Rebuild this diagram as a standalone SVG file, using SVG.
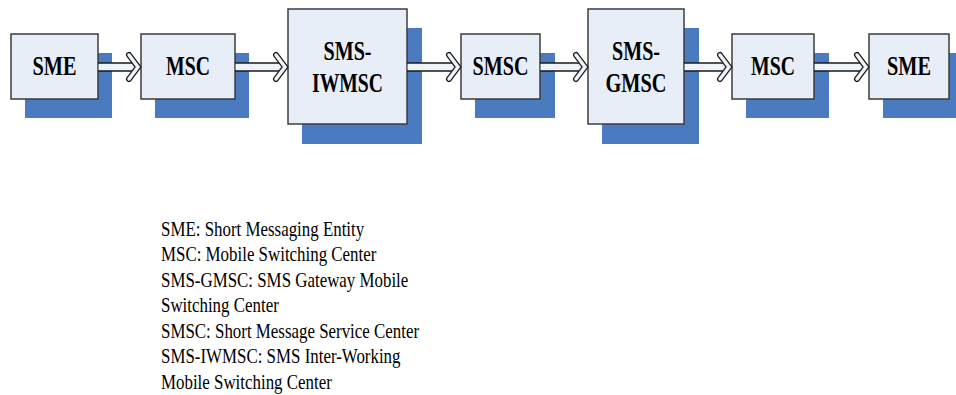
<svg xmlns="http://www.w3.org/2000/svg" width="956" height="395" viewBox="0 0 956 395">
  <style>
    .shadow { fill: #4a7abf; }
    .box { fill: #e8eef7; stroke: #3c3c3c; stroke-width: 1.5; }
    .label { font-family: "Liberation Serif", "Times New Roman", serif; font-weight: bold; font-size: 27px; fill: #000; text-anchor: middle; }
    .legend { font-family: "Liberation Serif", "Times New Roman", serif; font-size: 22px; fill: #000; }
    .shaft-out { stroke: #1a1a1a; stroke-width: 9.5; fill: none; }
    .shaft-in { stroke: #eef2f9; stroke-width: 6.5; fill: none; }
    .head-out { stroke: #1a1a1a; stroke-width: 6; fill: none; stroke-linecap: round; stroke-linejoin: miter; }
    .head-in { stroke: #eef2f9; stroke-width: 3.5; fill: none; stroke-linecap: round; stroke-linejoin: miter; }
  </style>
  <defs>
    <!-- hollow block arrow pointing right, tip at (0,0) -->
    <g id="head">
      <path class="head-out" d="M-12,-12 L-3,0 L-12,12"/>
      <path class="head-in" d="M-12,-12 L-3,0 L-12,12"/>
    </g>
  </defs>
  <rect width="956" height="395" fill="#fff"/>

  <g id="sme1">
    <rect class="shadow" x="25" y="53" width="87" height="65"/>
    <rect class="box" x="11" y="34" width="87" height="65"/>
    <text class="label" x="54.5" y="75" textLength="44" lengthAdjust="spacingAndGlyphs">SME</text>
  </g>
  <g id="msc1">
    <rect class="shadow" x="155" y="53" width="94" height="65"/>
    <rect class="box" x="141" y="34" width="94" height="65"/>
    <text class="label" x="188" y="75" textLength="44" lengthAdjust="spacingAndGlyphs">MSC</text>
  </g>
  <g id="sms-iwmsc">
    <rect class="shadow" x="302" y="28" width="120" height="116"/>
    <rect class="box" x="288" y="9" width="119" height="115"/>
    <text class="label" x="347.5" y="60" textLength="48" lengthAdjust="spacingAndGlyphs">SMS-</text>
    <text class="label" x="347.5" y="92" textLength="71" lengthAdjust="spacingAndGlyphs">IWMSC</text>
  </g>
  <g id="smsc">
    <rect class="shadow" x="475" y="53" width="80" height="65"/>
    <rect class="box" x="461" y="34" width="79" height="65"/>
    <text class="label" x="500.5" y="75" textLength="56" lengthAdjust="spacingAndGlyphs">SMSC</text>
  </g>
  <g id="sms-gmsc">
    <rect class="shadow" x="602" y="28" width="97" height="116"/>
    <rect class="box" x="588" y="9" width="96" height="115"/>
    <text class="label" x="636" y="60" textLength="48" lengthAdjust="spacingAndGlyphs">SMS-</text>
    <text class="label" x="636" y="92" textLength="61" lengthAdjust="spacingAndGlyphs">GMSC</text>
  </g>
  <g id="msc2">
    <rect class="shadow" x="746" y="53" width="83" height="65"/>
    <rect class="box" x="732" y="34" width="82" height="65"/>
    <text class="label" x="773" y="75" textLength="44" lengthAdjust="spacingAndGlyphs">MSC</text>
  </g>
  <g id="sme2">
    <rect class="shadow" x="883" y="53" width="80" height="65"/>
    <rect class="box" x="869" y="34" width="80" height="65"/>
    <text class="label" x="909" y="75" textLength="44" lengthAdjust="spacingAndGlyphs">SME</text>
  </g>

  <g id="connectors">
    <path class="shaft-out" d="M98,67 H137 M235,67 H284 M407,67 H457 M540,67 H584 M684,67 H728 M814,67 H865"/>
    <path class="shaft-in" d="M98.5,67 H137 M235.5,67 H284 M407.5,67 H457 M540.5,67 H584 M684.5,67 H728 M814.5,67 H865"/>
    <use href="#head" x="141" y="67"/>
    <use href="#head" x="288" y="67"/>
    <use href="#head" x="461" y="67"/>
    <use href="#head" x="588" y="67"/>
    <use href="#head" x="732" y="67"/>
    <use href="#head" x="869" y="67"/>
  </g>

  <!-- legend, set in a horizontally condensed serif -->
  <g id="legend" transform="translate(161 0) scale(0.768 1)">
    <text class="legend" x="0" y="236">SME: Short Messaging Entity</text>
    <text class="legend" x="0" y="261.5">MSC: Mobile Switching Center</text>
    <text class="legend" x="0" y="287">SMS-GMSC: SMS Gateway Mobile</text>
    <text class="legend" x="0" y="312.5">Switching Center</text>
    <text class="legend" x="0" y="338">SMSC: Short Message Service Center</text>
    <text class="legend" x="0" y="363.5">SMS-IWMSC: SMS Inter-Working</text>
    <text class="legend" x="0" y="389">Mobile Switching Center</text>
  </g>
</svg>
